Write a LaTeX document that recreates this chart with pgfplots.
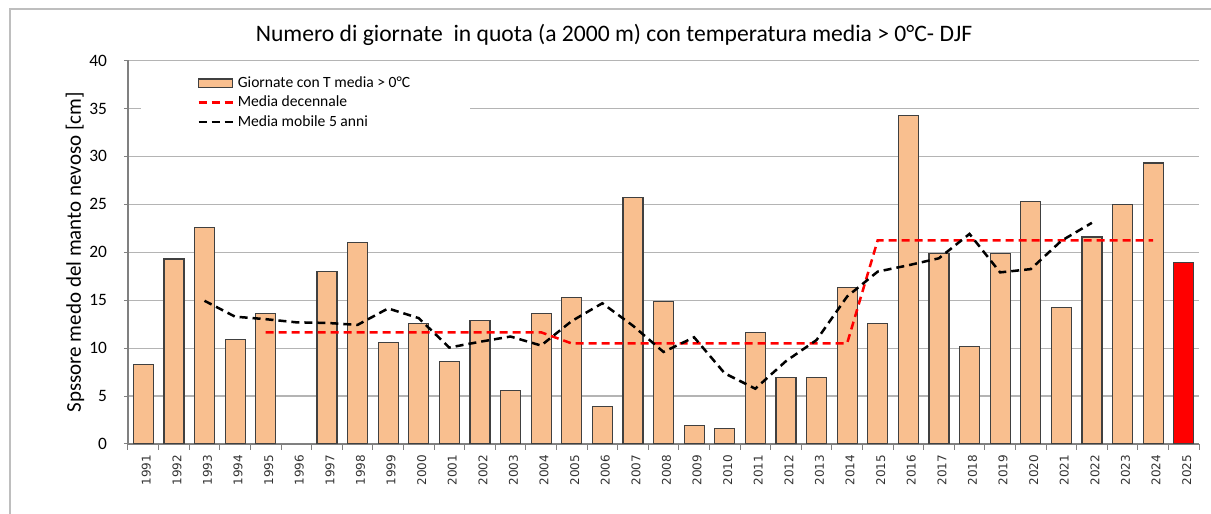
\documentclass[border=0pt]{standalone}
\usepackage{fontspec}
\setmainfont{Carlito}
\newfontfamily\dejavu{DejaVu Sans}
\usepackage{pgfplots}
\pgfplotsset{compat=1.18}
\definecolor{barfill}{HTML}{F9BF8F}
\definecolor{baredge}{HTML}{404040}
\definecolor{gridgray}{HTML}{B4B4B4}
\definecolor{framegray}{HTML}{BEBEBE}

\begin{document}
\begin{tikzpicture}
\useasboundingbox (-64pt,-35pt) rectangle (541.5pt,222pt);
% outer chart frame (top and left edges are visible)
\draw[framegray, line width=0.8pt] (-59pt,-35pt) -- (-59pt,217.5pt) -- (541.5pt,217.5pt);
\node[font=\fontsize{11.8}{13}\selectfont] at (243pt,204.5pt)
  {Numero di giornate~ in quota (a 2000 m) con temperatura media > 0°C- DJF};

\begin{axis}[
  at={(0,0)}, anchor=south west, scale only axis,
  width=535.5pt, height=191.75pt,
  xmin=-0.5, xmax=34.5, ymin=0, ymax=40,
  ytick={0,5,...,40},
  ymajorgrids, grid style={gridgray, line width=0.6pt},
  axis x line*=bottom, axis y line*=left,
  axis line style={gray, line width=0.6pt},
  xtick={0,...,34},
  xticklabels={1991,1992,1993,1994,1995,1996,1997,1998,1999,2000,2001,2002,2003,2004,2005,2006,2007,2008,2009,2010,2011,2012,2013,2014,2015,2016,2017,2018,2019,2020,2021,2022,2023,2024,2025},
  minor xtick={-0.5,0.5,...,34.5},
  tick align=outside, major tick length=2pt, minor tick length=3pt,
  major x tick style={draw=none},
  minor x tick style={gray, line width=0.5pt},
  y tick style={gray, line width=0.5pt},
  /pgf/number format/assume math mode=true,
  x tick label style={rotate=90, anchor=east, yshift=-1.5pt,
    font=\dejavu\fontsize{6}{6}\selectfont, text=black!80},
  y tick label style={font=\fontsize{8.7}{10}\selectfont, xshift=-5pt},
  ylabel={Spssore medo del manto nevoso [cm]},
  ylabel style={at={(axis description cs:-0.0495,0.5)}, anchor=center,
    font=\fontsize{10.5}{12}\selectfont},
  legend style={at={(0.0121,0.9935)}, anchor=north west, draw=none, fill=white,
    inner xsep=28pt, inner ysep=4.5pt, row sep=-1.2pt,
    font=\fontsize{7.8}{9}\selectfont, cells={anchor=west}},
  legend cell align=left,
]
\addplot[ybar, bar width=10pt, bar shift=0pt, fill=barfill, draw=baredge, line width=0.6pt,
  legend image code/.code={\draw[fill=barfill, draw=baredge, line width=0.6pt] (0pt,-2.2pt) rectangle (17pt,2.2pt);}]
  coordinates {(0,8.3) (1,19.3) (2,22.6) (3,10.9) (4,13.6) (6,18.0) (7,21.0) (8,10.6)
    (9,12.6) (10,8.6) (11,12.9) (12,5.6) (13,13.6) (14,15.3) (15,3.9) (16,25.7) (17,14.9)
    (18,1.9) (19,1.6) (20,11.6) (21,6.9) (22,6.9) (23,16.3) (24,12.6) (25,34.3) (26,19.9)
    (27,10.2) (28,19.9) (29,25.3) (30,14.2) (31,21.6) (32,25.0) (33,29.3)};
\addlegendentry{Giornate con T media > 0°C}
\addplot[red, line width=1.25pt, dash pattern=on 4pt off 2.5pt, sharp plot, mark=none,
  legend image code/.code={\draw[red, line width=1.25pt, dash pattern=on 4pt off 2.5pt] (0pt,0pt) -- (17pt,0pt);}]
  coordinates {(4,11.65) (13,11.65) (14,10.49) (23,10.49) (24,21.25) (33,21.25)};
\addlegendentry{Media decennale}
\addplot[black, line width=1.25pt, dash pattern=on 4pt off 2.5pt, sharp plot, mark=none,
  legend image code/.code={\draw[black, line width=1.25pt, dash pattern=on 4pt off 2.5pt] (0pt,0pt) -- (17pt,0pt);}]
  coordinates {(2,14.94) (3,13.28) (4,13.02) (5,12.69) (6,12.63) (7,12.42) (8,14.14)
    (9,13.13) (10,10.06) (11,10.66) (12,11.21) (13,10.27) (14,12.82) (15,14.68) (16,12.34)
    (17,9.60) (18,11.13) (19,7.37) (20,5.77) (21,8.64) (22,10.84) (23,15.38) (24,17.98)
    (25,18.64) (26,19.37) (27,21.91) (28,17.90) (29,18.24) (30,21.19) (31,23.07)};
\addlegendentry{Media mobile 5 anni}
\addplot[ybar, bar width=10pt, bar shift=0pt, fill=red, draw=baredge, line width=0.6pt, forget plot]
  coordinates {(34,18.9)};
\end{axis}
\end{tikzpicture}
\end{document}
